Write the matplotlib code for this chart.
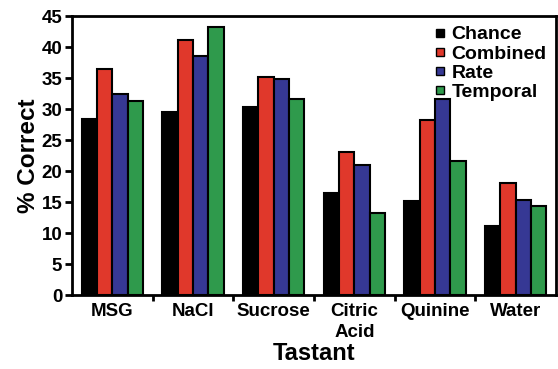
import numpy as np
import matplotlib.pyplot as plt
from matplotlib.lines import Line2D

plt.rcParams['font.family'] = ['Liberation Sans', 'DejaVu Sans']
plt.rcParams['font.weight'] = 'bold'

tastants = ["MSG", "NaCl", "Sucrose", "Citric\nAcid", "Quinine", "Water"]
chance = [28.4, 29.5, 30.4, 16.5, 15.1, 11.2]
combined = [36.4, 41.2, 35.2, 23.0, 28.3, 18.0]
rate = [32.5, 38.6, 34.8, 20.9, 31.6, 15.3]
temporal = [31.3, 43.3, 31.6, 13.3, 21.6, 14.4]

series = ["Chance", "Combined", "Rate", "Temporal"]
colors = ["#000000", "#e0382b", "#363894", "#2f9a4c"]

fig = plt.figure(figsize=(5.58, 3.69), dpi=100)
ax = fig.add_axes([0.129, 0.2005, 0.8675, 0.7561])

x = np.arange(len(tastants))
w = 0.19
for i, vals in enumerate([chance, combined, rate, temporal]):
    ax.bar(x + (i - 1.5) * w, vals, w, color=colors[i], edgecolor="black",
           linewidth=1.5, zorder=2)

ax.set_xlim(-0.5, len(tastants) - 0.5)
ax.set_ylim(0, 45)
ax.set_yticks(range(0, 46, 5))
ax.set_xticks(x)
ax.set_xticklabels(tastants, fontsize=13.5, linespacing=1.25)
ax.set_xticks(np.arange(0.5, len(tastants) - 0.5), minor=True)
ax.tick_params(axis="x", which="major", length=0, pad=6)
ax.tick_params(axis="x", which="minor", length=4, width=2)
ax.tick_params(axis="y", length=5, width=2, labelsize=13.5, pad=2)
for s in ax.spines.values():
    s.set_linewidth(2)

ax.set_ylabel("% Correct", fontsize=17.5, fontweight="bold", labelpad=1)
ax.set_xlabel("Tastant", fontsize=17, fontweight="bold", labelpad=1)

# square swatches for the legend
handles = [Line2D([], [], linestyle="none", marker="s", markersize=5.5,
                  markerfacecolor=c, markeredgecolor="black",
                  markeredgewidth=1) for c in colors]
ax.legend(handles, series, loc="upper left", bbox_to_anchor=(0.75, 0.965),
          frameon=False, fontsize=14, handlelength=0.5,
          handletextpad=0.35, labelspacing=0.08, borderpad=0, borderaxespad=0)

fig.savefig("out.png", dpi=100)
